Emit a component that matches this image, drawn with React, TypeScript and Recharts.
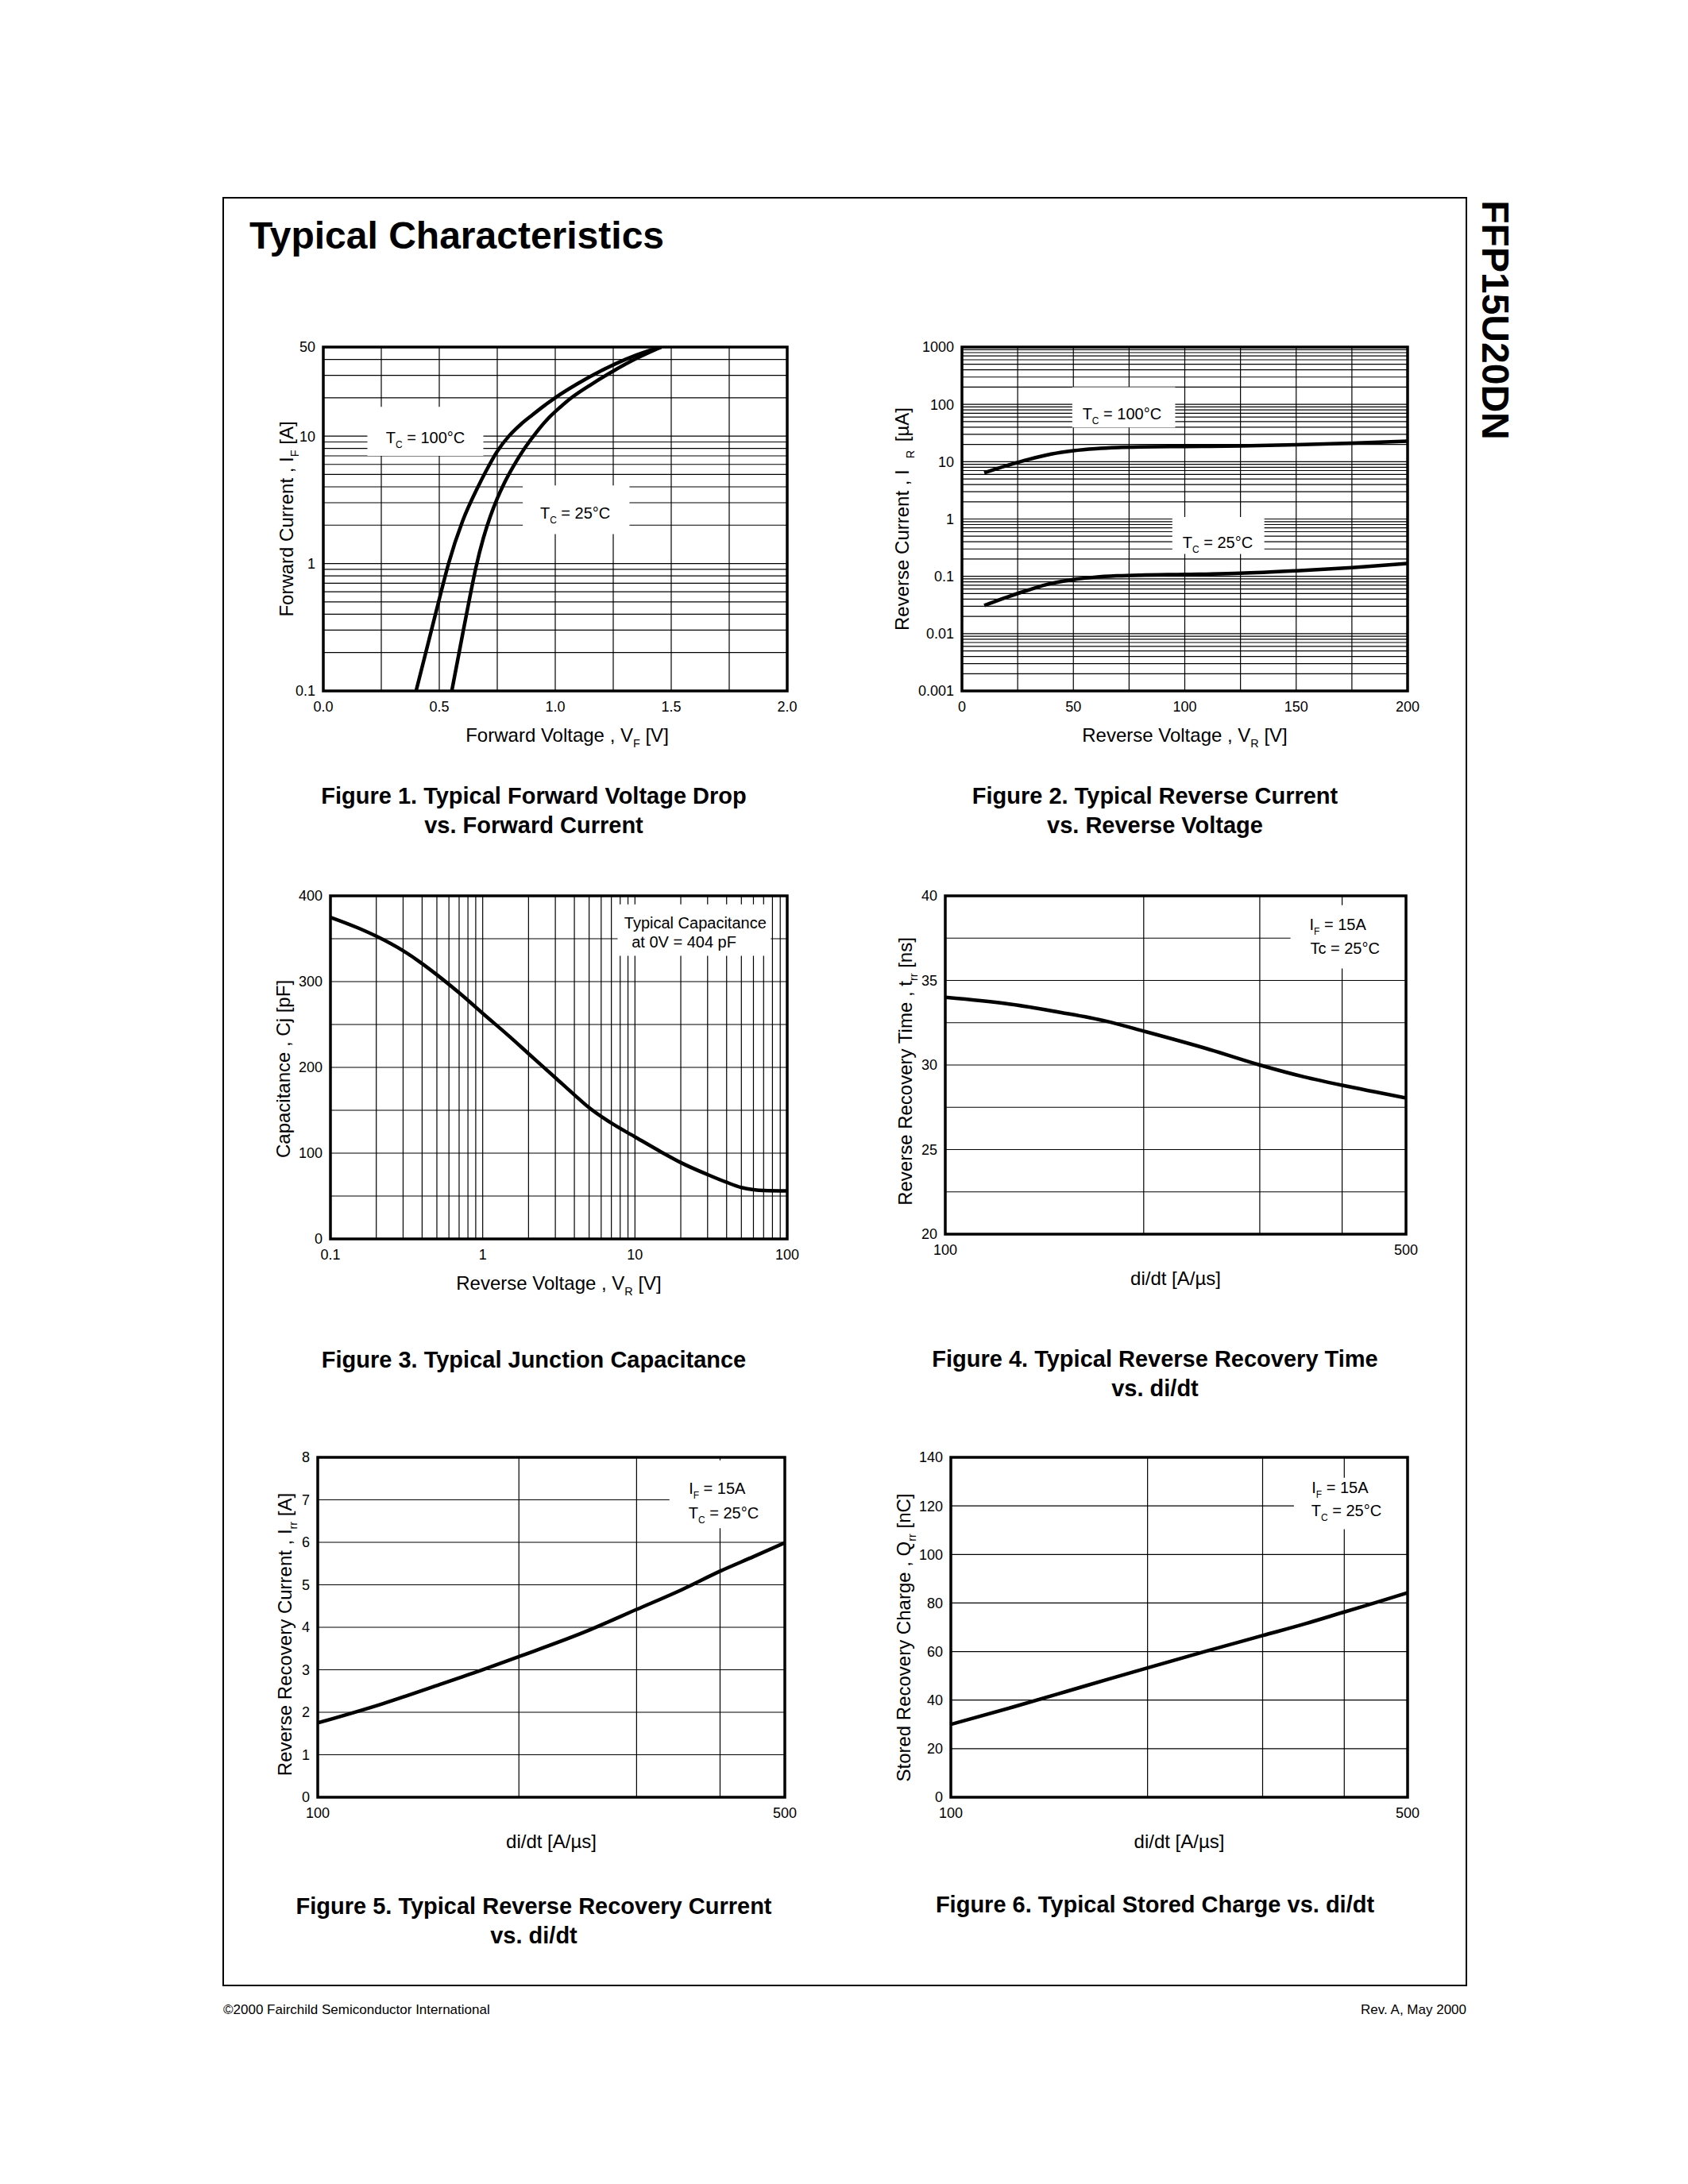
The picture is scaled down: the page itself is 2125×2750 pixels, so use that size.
import React from 'react'
import { LineChart, Line, XAxis, YAxis, CartesianGrid, ReferenceArea, ReferenceDot } from 'recharts'

const FONT = '"Liberation Sans", Arial, Helvetica, sans-serif'

// Figure 1: forward voltage vs forward current
const vf100 = [0.4, 0.45, 0.5, 0.54, 0.6, 0.667, 0.7, 0.75, 0.8, 0.85, 0.9, 0.95, 1.0, 1.1, 1.2, 1.3, 1.4, 1.457]
const if100 = [0.1, 0.229, 0.525, 1.0, 2.14, 4.0, 5.25, 7.6, 10, 12.3, 14.6, 17.2, 20, 26, 32.7, 39.8, 46.6, 50]
const vf25 = [0.554, 0.6, 0.63, 0.658, 0.69, 0.72, 0.75, 0.78, 0.82, 0.87, 0.92, 0.97, 1.02, 1.07, 1.15, 1.25, 1.35, 1.457]
const if25 = [0.1, 0.275, 0.525, 0.93, 1.58, 2.34, 3.24, 4.27, 5.82, 8.13, 10.8, 13.8, 16.8, 20, 25.1, 32.4, 40.7, 50]
const f1XTicks = [0, 0.5, 1, 1.5, 2]
const f1YTicks = [0.1, 1, 10, 50]
const f1XGrid = [0.25, 0.5, 0.75, 1, 1.25, 1.5, 1.75]

// Figure 2: reverse voltage vs reverse current
const vr = [10, 20, 30, 40, 50, 60, 70, 80, 100, 125, 150, 175, 200]
const ir100 = [6.4, 8.5, 11.0, 13.6, 15.6, 16.9, 17.7, 18.1, 18.4, 18.8, 19.7, 21.0, 22.8]
const ir25 = [0.031, 0.043, 0.058, 0.075, 0.088, 0.097, 0.102, 0.105, 0.108, 0.113, 0.125, 0.142, 0.168]
const f2XTicks = [0, 50, 100, 150, 200]
const f2YTicks = [0.001, 0.01, 0.1, 1, 10, 100, 1000]
const f2XGrid = [25, 50, 75, 100, 125, 150, 175]

// Figure 3: junction capacitance
const vr3 = [0.1, 0.15, 0.2, 0.3, 0.4, 0.5, 0.7, 1, 1.5, 2, 3, 4, 5, 7, 10, 15, 20, 30, 40, 50, 60, 70, 100]
const cj = [375, 363, 353, 336, 321, 308, 287, 263, 236, 216, 188, 168, 153, 135, 119, 101, 89, 75, 66, 60, 57.5, 56.5, 56]
const f3XTicks = [0.1, 1, 10, 100]
const f3YTicks = [0, 100, 200, 300, 400]
const f3YGrid = [50, 100, 150, 200, 250, 300, 350]

// Figures 4-6: vs di/dt
const didt = [100, 125, 150, 175, 200, 250, 300, 350, 400, 450, 500]
const trr = [34.0, 33.6, 33.1, 32.6, 32.0, 30.95, 30.0, 29.3, 28.8, 28.4, 28.05]
const irr = [1.75, 2.2, 2.62, 2.98, 3.31, 3.88, 4.42, 4.88, 5.32, 5.67, 5.99]
const qrr = [30, 37.3, 43.5, 48.8, 53.3, 60.7, 66.6, 71.6, 76.3, 80.4, 84.2]
const didtTicks = [100, 500]
const didtGrid = [200, 300, 400]
const f4YTicks = [20, 25, 30, 35, 40]
const f4YGrid = [22.5, 25, 27.5, 30, 32.5, 35, 37.5]
const f5YTicks = [0, 1, 2, 3, 4, 5, 6, 7, 8]
const f5YGrid = [1, 2, 3, 4, 5, 6, 7]
const f6YTicks = [0, 20, 40, 60, 80, 100, 120, 140]
const f6YGrid = [20, 40, 60, 80, 100, 120]

type Pt = { x: number; y: number }
const zip = (xs: number[], ys: number[]): Pt[] => xs.map((x, i) => ({ x, y: ys[i] }))

// minor log grid (1..9 of each decade) strictly between lo and hi
const logGrid = (lo: number, hi: number) => {
  const out: number[] = []
  for (let d = lo; d < hi; d *= 10) {
    for (let k = 1; k < 10; k++) {
      const v = +(d * k).toPrecision(6)
      if (v > lo && v < hi) out.push(v)
    }
  }
  return out
}

type Seg = string | { t: string; sub?: boolean; dx?: number }

function rich(segs: Seg[], size: number) {
  let low = false
  return segs.map((s, i) => {
    const seg = typeof s === 'string' ? { t: s } : s
    const sub = !!seg.sub
    const dy = sub === low ? 0 : sub ? size * 0.3 : -size * 0.3
    low = sub
    return (
      <tspan key={i} fontSize={sub ? size * 0.6 : size} dy={dy} dx={seg.dx}>
        {seg.t}
      </tspan>
    )
  })
}

type AxisCfg = { domain: [number, number]; log?: boolean; ticks: number[]; fmt?: (v: number) => string; grid: number[] }
type Box = { x1: number; x2: number; y1: number; y2: number }
type Note = { x: number; y: number; segs: Seg[] }
type PlotProps = {
  box: [number, number, number, number]
  xa: AxisCfg
  ya: AxisCfg
  series: Pt[][]
  blanks?: Box[]
  notes?: Note[]
  xTitle: Seg[]
  yTitle: Seg[]
  xTitleDx?: number
  yGap: number
  yDy?: number
}

const ML = 150
const MT = 20
const MR = 20
const XH = 100
const AX = 24
const TICK = 18
const NOTE = 20

function Plot(p: PlotProps) {
  const [l, t, r, b] = p.box
  const pw = r - l
  const ph = b - t
  const W = pw + ML + MR
  const H = ph + MT + XH

  const xLabel = () => (
    <text x={ML + pw / 2 + (p.xTitleDx ?? 0)} y={MT + ph + 55 + 0.358 * AX} textAnchor="middle" fill="#000" fontSize={AX}>
      {rich(p.xTitle, AX)}
    </text>
  )
  const yLabel = () => {
    const cx = ML - p.yGap + 0.358 * AX
    const cy = MT + ph / 2 + (p.yDy ?? 0)
    return (
      <text transform={`translate(${cx},${cy}) rotate(-90)`} textAnchor="middle" fill="#000" fontSize={AX}>
        {rich(p.yTitle, AX)}
      </text>
    )
  }
  const noteLabel = (segs: Seg[]) => (props: any) => {
    const vb = props.viewBox || {}
    const x = (vb.x ?? 0) + (vb.width ?? 0) / 2
    const y = (vb.y ?? 0) + (vb.height ?? 0) / 2
    return (
      <text x={x} y={y + 0.358 * NOTE} textAnchor="middle" fill="#000" fontSize={NOTE}>
        {rich(segs, NOTE)}
      </text>
    )
  }

  return (
    <div style={{ position: 'absolute', left: l - ML, top: t - MT, width: W, height: H }}>
      <LineChart width={W} height={H} margin={{ top: MT, right: MR, bottom: 0, left: 0 }}>
        <CartesianGrid
          horizontalValues={p.ya.grid}
          verticalValues={p.xa.grid}
          stroke="#000"
          strokeWidth={1.2}
          strokeOpacity={1}
          fill="none"
        />
        <XAxis
          type="number"
          dataKey="x"
          domain={p.xa.domain}
          scale={p.xa.log ? 'log' : 'linear'}
          ticks={p.xa.ticks}
          tickFormatter={p.xa.fmt ?? ((v: number) => String(v))}
          allowDataOverflow
          interval={0}
          tickLine={false}
          axisLine={false}
          tickSize={0}
          tickMargin={13}
          height={XH}
          tick={{ fontSize: TICK, fill: '#000' }}
          label={xLabel}
        />
        <YAxis
          type="number"
          domain={p.ya.domain}
          scale={p.ya.log ? 'log' : 'linear'}
          ticks={p.ya.ticks}
          tickFormatter={p.ya.fmt ?? ((v: number) => String(v))}
          allowDataOverflow
          interval={0}
          tickLine={false}
          axisLine={false}
          tickSize={0}
          tickMargin={10}
          width={ML}
          tick={{ fontSize: TICK, fill: '#000' }}
          label={yLabel}
        />
        {(p.blanks ?? []).map((bx, i) => (
          <ReferenceArea
            key={'bl' + i}
            x1={bx.x1}
            x2={bx.x2}
            y1={bx.y1}
            y2={bx.y2}
            fill="#fff"
            fillOpacity={1}
            stroke="none"
          />
        ))}
        {p.series.map((s, i) => (
          <Line
            key={'s' + i}
            data={s}
            dataKey="y"
            type="monotone"
            stroke="#000"
            strokeWidth={4.5}
            dot={false}
            activeDot={false}
            isAnimationActive={false}
          />
        ))}
        <ReferenceArea
          x1={p.xa.domain[0]}
          x2={p.xa.domain[1]}
          y1={p.ya.domain[0]}
          y2={p.ya.domain[1]}
          fill="none"
          stroke="#000"
          strokeWidth={3.5}
          ifOverflow="visible"
        />
        {(p.notes ?? []).map((n, i) => (
          <ReferenceDot key={'n' + i} x={n.x} y={n.y} r={2} fill="none" stroke="none" label={noteLabel(n.segs)} />
        ))}
      </LineChart>
    </div>
  )
}

const tc = (v: string): Seg[] => ['T', { t: 'C', sub: true }, ` = ${v}°C`]
const ifNote: Seg[] = ['I', { t: 'F', sub: true }, ' = 15A']
const didtTitle: Seg[] = ['di/dt [A/µs]']

function Caption({ x, y, lines }: { x: number; y: number; lines: string[] }) {
  return (
    <>
      {lines.map((s, i) => (
        <text key={i} x={x} y={y + i * 37} textAnchor="middle" fontSize={29} fontWeight="bold" fill="#000">
          {s}
        </text>
      ))}
    </>
  )
}

export default function App() {
  return (
    <div style={{ position: 'absolute', left: 0, top: 0, width: 2125, height: 2750, background: '#fff', fontFamily: FONT }}>
      <svg width={2125} height={2750} style={{ position: 'absolute', left: 0, top: 0 }} fontFamily={FONT}>
        <rect x={281} y={249} width={1565} height={2251} fill="none" stroke="#000" strokeWidth={2} />
        <text x={314} y={313} fontSize={48} fontWeight="bold" fill="#000">
          Typical Characteristics
        </text>
        <text transform="translate(1866,403) rotate(90)" textAnchor="middle" fontSize={48} fontWeight="bold" fill="#000">
          FFP15U20DN
        </text>
        <Caption x={672} y={1012} lines={['Figure 1. Typical Forward Voltage Drop', 'vs. Forward Current']} />
        <Caption x={1454} y={1012} lines={['Figure 2. Typical Reverse Current', 'vs. Reverse Voltage']} />
        <Caption x={672} y={1722} lines={['Figure 3. Typical Junction Capacitance']} />
        <Caption x={1454} y={1721} lines={['Figure 4. Typical Reverse Recovery Time', 'vs. di/dt']} />
        <Caption x={672} y={2410} lines={['Figure 5. Typical Reverse Recovery Current', 'vs. di/dt']} />
        <Caption x={1454} y={2408} lines={['Figure 6. Typical Stored Charge vs. di/dt']} />
        <text x={281} y={2536} fontSize={17} fill="#000">
          ©2000 Fairchild Semiconductor International
        </text>
        <text x={1846} y={2536} fontSize={17} fill="#000" textAnchor="end">
          Rev. A, May 2000
        </text>
      </svg>

      <Plot
        box={[407, 437, 991, 870]}
        xa={{ domain: [0, 2], ticks: f1XTicks, fmt: (v) => v.toFixed(1), grid: f1XGrid }}
        ya={{ domain: [0.1, 50], log: true, ticks: f1YTicks, grid: logGrid(0.1, 50) }}
        series={[zip(vf100, if100), zip(vf25, if25)]}
        blanks={[
          { x1: 0.19, x2: 0.69, y1: 7.0, y2: 17 },
          { x1: 0.86, x2: 1.32, y1: 1.7, y2: 4.1 },
        ]}
        notes={[
          { x: 0.44, y: 9.8, segs: tc('100') },
          { x: 1.086, y: 2.5, segs: tc('25') },
        ]}
        xTitle={['Forward Voltage , V', { t: 'F', sub: true }, ' [V]']}
        yTitle={['Forward Current , I', { t: 'F', sub: true }, ' [A]']}
        xTitleDx={15}
        yGap={47}
      />

      <Plot
        box={[1211, 437, 1772, 870]}
        xa={{ domain: [0, 200], ticks: f2XTicks, grid: f2XGrid }}
        ya={{ domain: [0.001, 1000], log: true, ticks: f2YTicks, grid: logGrid(0.001, 1000) }}
        series={[zip(vr, ir100), zip(vr, ir25)]}
        blanks={[
          { x1: 49.5, x2: 95.7, y1: 39.5, y2: 200 },
          { x1: 94.4, x2: 135.7, y1: 0.245, y2: 1.08 },
        ]}
        notes={[
          { x: 71.8, y: 70, segs: tc('100') },
          { x: 114.8, y: 0.39, segs: tc('25') },
        ]}
        xTitle={['Reverse Voltage , V', { t: 'R', sub: true }, ' [V]']}
        yTitle={['Reverse Current , I', { t: 'R', sub: true, dx: 14 }, { t: ' [µA]', dx: 4 }]}
        yGap={76}
      />

      <Plot
        box={[416, 1128, 991, 1560]}
        xa={{ domain: [0.1, 100], log: true, ticks: f3XTicks, grid: logGrid(0.1, 100) }}
        ya={{ domain: [0, 400], ticks: f3YTicks, grid: f3YGrid }}
        series={[zip(vr3, cj)]}
        blanks={[{ x1: 7.7, x2: 78, y1: 330, y2: 390 }]}
        notes={[
          { x: 24.9, y: 369, segs: ['Typical Capacitance'] },
          { x: 21, y: 346, segs: ['at  0V = 404 pF'] },
        ]}
        xTitle={['Reverse Voltage , V', { t: 'R', sub: true }, ' [V]']}
        yTitle={['Capacitance , Cj [pF]']}
        yGap={60}
        yDy={2}
      />

      <Plot
        box={[1190, 1128, 1770, 1554]}
        xa={{ domain: [100, 500], log: true, ticks: didtTicks, grid: didtGrid }}
        ya={{ domain: [20, 40], ticks: f4YTicks, grid: f4YGrid }}
        series={[zip(didt, trr)]}
        blanks={[{ x1: 334, x2: 500, y1: 35.7, y2: 39.45 }]}
        notes={[
          { x: 394, y: 38.3, segs: ifNote },
          { x: 404, y: 36.9, segs: ['Tc = 25°C'] },
        ]}
        xTitle={didtTitle}
        yTitle={['Reverse Recovery Time , t', { t: 'rr', sub: true }, ' [ns]']}
        yGap={51}
        yDy={8}
      />

      <Plot
        box={[400, 1835, 988, 2263]}
        xa={{ domain: [100, 500], log: true, ticks: didtTicks, grid: didtGrid }}
        ya={{ domain: [0, 8], ticks: f5YTicks, grid: f5YGrid }}
        series={[zip(didt, irr)]}
        blanks={[{ x1: 336, x2: 500, y1: 6.33, y2: 7.93 }]}
        notes={[
          { x: 396, y: 7.28, segs: ifNote },
          { x: 405, y: 6.69, segs: tc('25') },
        ]}
        xTitle={didtTitle}
        yTitle={['Reverse Recovery Current , I', { t: 'rr', sub: true }, ' [A]']}
        yGap={42}
        yDy={9}
      />

      <Plot
        box={[1197, 1835, 1772, 2263]}
        xa={{ domain: [100, 500], log: true, ticks: didtTicks, grid: didtGrid }}
        ya={{ domain: [0, 140], ticks: f6YTicks, grid: f6YGrid }}
        series={[zip(didt, qrr)]}
        blanks={[{ x1: 335, x2: 500, y1: 110.4, y2: 131.6 }]}
        notes={[
          { x: 394, y: 127.5, segs: ifNote },
          { x: 403, y: 118, segs: tc('25') },
        ]}
        xTitle={didtTitle}
        yTitle={['Stored Recovery Charge , Q', { t: 'rr', sub: true }, ' [nC]']}
        yGap={60}
        yDy={13}
      />
    </div>
  )
}
